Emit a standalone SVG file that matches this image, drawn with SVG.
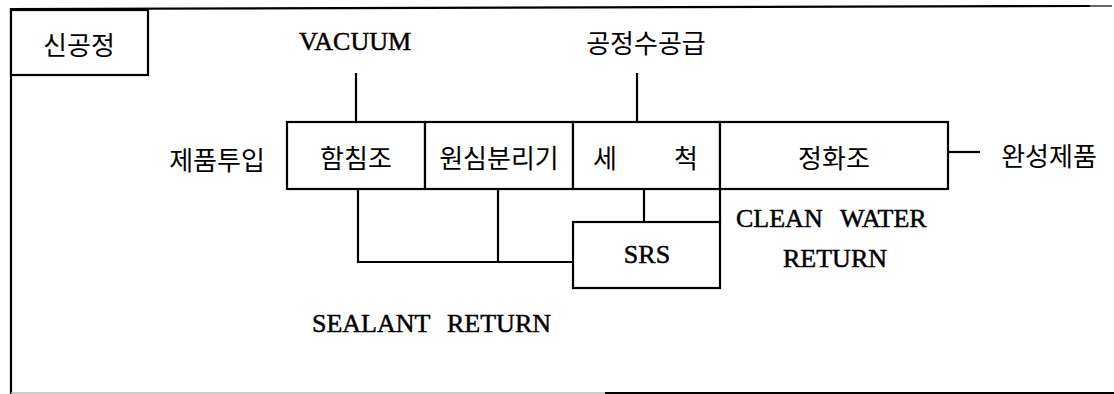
<svg xmlns="http://www.w3.org/2000/svg" width="1114" height="394" viewBox="0 0 1114 394">
<style>
.box{fill:#fff;stroke:#000;stroke-width:2.2}
.ln{fill:none;stroke:#000;stroke-width:2.2}
.ko{font-family:"Noto Sans CJK KR","Noto Sans",sans-serif;font-size:26px;fill:#000;text-anchor:middle;dominant-baseline:central}
.en{font-family:"Liberation Serif","Times New Roman",serif;font-size:26px;fill:#000;stroke:#000;stroke-width:0.5}
.mid{text-anchor:middle}
</style>
<rect width="1114" height="394" fill="#fff"/>
<g id="frame">
<line class="ln" x1="10" y1="9" x2="1090" y2="6"/>
<line x1="1090" y1="6" x2="1112" y2="6" stroke="#000" stroke-width="1.2"/>
<line class="ln" x1="11" y1="8" x2="11" y2="394"/>
<line x1="11" y1="393" x2="605" y2="393" stroke="#bbb" stroke-width="1.5"/>
<line x1="605" y1="393" x2="1114" y2="393" stroke="#000" stroke-width="2"/>
</g>
<g id="connectors">
<line class="ln" x1="356" y1="73" x2="356" y2="122"/>
<line class="ln" x1="637" y1="73" x2="637" y2="122"/>
<line class="ln" x1="948" y1="152" x2="980" y2="152"/>
<polyline class="ln" points="358,189 358,262 573,262"/>
<line class="ln" x1="498" y1="189" x2="498" y2="262"/>
<line class="ln" x1="644" y1="189" x2="644" y2="222"/>
<line class="ln" x1="720" y1="189" x2="720" y2="222"/>
</g>
<g id="label-new">
<rect class="box" x="11" y="10" width="137" height="65"/>
<text class="ko" x="79" y="43">신공정</text>
</g>
<g id="label-vacuum"><text class="en mid" x="355" y="50">VACUUM</text></g>
<g id="label-water"><text class="ko" x="646" y="41">공정수공급</text></g>
<g id="label-input"><text class="ko" x="217" y="158">제품투입</text></g>
<g id="node-hamchim">
<rect class="box" x="287" y="122" width="138" height="67"/>
<text class="ko" x="356" y="156">함침조</text>
</g>
<g id="node-centrifuge">
<rect class="box" x="425" y="122" width="148" height="67"/>
<text class="ko" x="499" y="156">원심분리기</text>
</g>
<g id="node-wash">
<rect class="box" x="573" y="122" width="147" height="67"/>
<text class="ko" x="605" y="156">세</text>
<text class="ko" x="686" y="156">척</text>
</g>
<g id="node-purify">
<rect class="box" x="720" y="122" width="228" height="67"/>
<text class="ko" x="834" y="156">정화조</text>
</g>
<g id="label-output"><text class="ko" x="1049" y="154">완성제품</text></g>
<g id="node-srs">
<rect class="box" x="573" y="222" width="147" height="66"/>
<text class="en mid" x="647" y="263">SRS</text>
</g>
<g id="label-clean">
<text class="en" y="227"><tspan x="736">CLEAN</tspan><tspan x="840">WATER</tspan></text>
<text class="en mid" x="835" y="267">RETURN</text>
</g>
<g id="label-sealant">
<text class="en" y="332"><tspan x="312">SEALANT</tspan><tspan x="447">RETURN</tspan></text>
</g>
</svg>
